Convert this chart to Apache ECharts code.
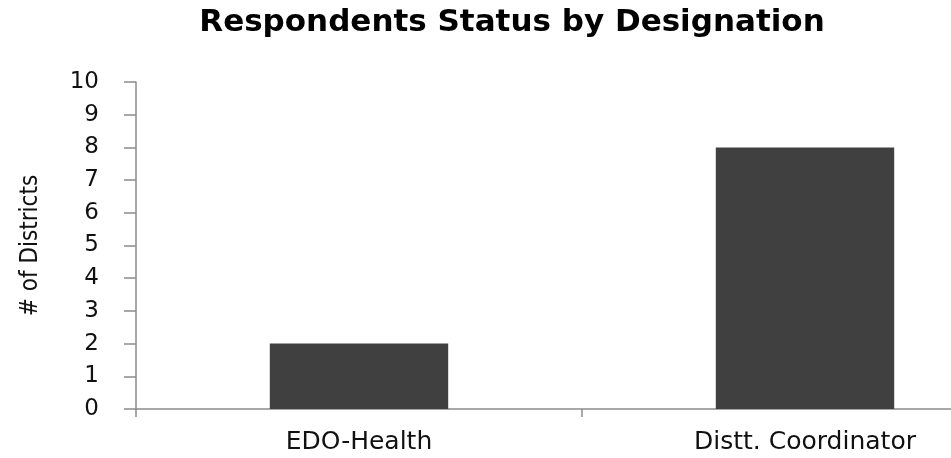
<!DOCTYPE html>
<html>
<head>
<meta charset="utf-8">
<script src="https://cdn.jsdelivr.net/npm/echarts@6/dist/echarts.min.js"></script>
<style>
  html, body { margin: 0; padding: 0; background: #fff; }
  #main { width: 951px; height: 458px; }
</style>
</head>
<body>
<div id="main"></div>
<script>
// data
const categories = ['EDO-Health', 'Distt. Coordinator']
const districts = [2, 8]
const yTicks = { min: 0, max: 10, interval: 1 }

const chart = echarts.init(document.getElementById('main'))
chart.setOption({
  animation: false,
  title: {
    text: 'Respondents Status by Designation',
    left: 507,
    top: 2,
    textAlign: 'center',
    textStyle: {
      fontFamily: 'DejaVu Sans',
      fontWeight: 'bold',
      fontSize: 31,
      color: '#000'
    }
  },
  grid: {
    left: 136,
    width: 892, // plot runs past the right edge in the original
    top: 82,
    bottom: 49,
    containLabel: false,
    outerBoundsMode: 'none'
  },
  xAxis: {
    type: 'category',
    data: categories,
    axisLine: { lineStyle: { color: '#8c8c8c', width: 1.5 } },
    axisTick: { show: true, length: 8, lineStyle: { color: '#8c8c8c', width: 1.5 } },
    axisLabel: {
      margin: 21,
      fontFamily: 'DejaVu Sans',
      fontSize: 25,
      color: '#111'
    },
    splitLine: { show: false }
  },
  yAxis: {
    type: 'value',
    min: yTicks.min,
    max: yTicks.max,
    interval: yTicks.interval,
    name: '# of Districts',
    nameLocation: 'middle',
    nameGap: 93,
    nameRotate: 90,
    nameTextStyle: {
      fontFamily: 'DejaVu Sans Condensed',
      fontSize: 24,
      color: '#111'
    },
    axisLine: { show: true, lineStyle: { color: '#8c8c8c', width: 1.5 } },
    axisTick: { show: true, inside: false, length: 12, lineStyle: { color: '#8c8c8c', width: 1.5 } },
    axisLabel: {
      margin: 37,
      fontFamily: 'DejaVu Sans',
      fontSize: 23,
      color: '#111'
    },
    splitLine: { show: false }
  },
  series: [
    {
      type: 'bar',
      data: districts,
      barCategoryGap: '60%',
      itemStyle: { color: '#404040' }
    }
  ]
})
</script>
</body>
</html>
